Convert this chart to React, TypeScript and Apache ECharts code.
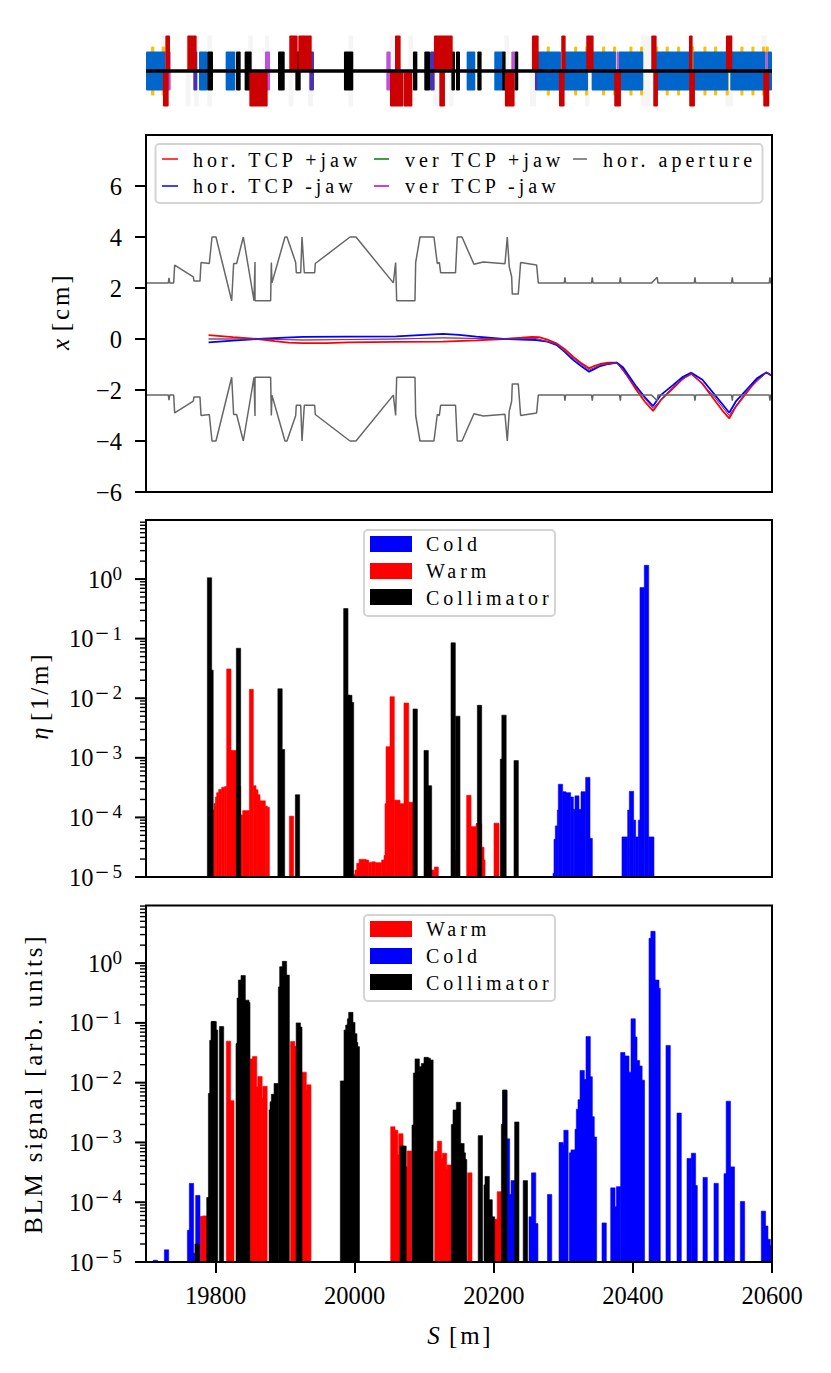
// App.tsx
import React, { useEffect, useRef } from "react";
import * as echarts from "echarts";

const FONT = "Liberation Serif";
const S_MIN = 19700;
const S_MAX = 20600;
const S_TICKS = [19800, 20000, 20200, 20400, 20600];
const X_TICKS = [-6, -4, -2, 0, 2, 4, 6];

// lattice elements, [s start, s end] in metres
const latBands = [[19722, 19727], [19757, 19764], [19769, 19776], [19788, 19795], [19847, 19854], [19871, 19877], [19905, 19912], [19933, 19940], [19991, 19998], [20050, 20056], [20077, 20084], [20113, 20120], [20136, 20142], [20215, 20222], [20252, 20261], [20331, 20338], [20412, 20425], [20533, 20544], [20585, 20592]];
const latYellow = [[19707.2, 19712], [19722.5, 19727.3], [20276.2, 20280.6], [20315.5, 20319.9], [20331.3, 20335.7], [20355.7, 20360.1], [20371.5, 20375.9], [20395, 20399.4], [20410.3, 20414.7], [20431.9, 20436.3], [20447.2, 20451.6], [20463.5, 20467.9], [20483.7, 20488.1], [20501.4, 20505.8], [20516.7, 20521.1], [20533.5, 20537.9], [20554.6, 20559], [20570.4, 20574.8], [20585.7, 20590.1], [20591, 20595.4]];
const latBlue = [[19700, 19727.8], [19776.2, 19788.7], [19814.5, 19828.4], [20161, 20173.4], [20200.7, 20213.7], [20261.6, 20296.6], [20300.4, 20335.4], [20340.7, 20375.6], [20379.5, 20414.9], [20433.1, 20483.5], [20486.8, 20537.1], [20540, 20590.8], [20593.7, 20600]];
const latOrchid = [[19727.8, 19735.5], [19871, 19878.3], [20045.5, 20051.7], [20225.2, 20231.4], [20376.6, 20380], [20590.8, 20593.7]];
const latIndigo = [[19768, 19773.8], [19934.8, 19941.5], [20108.3, 20115], [20259.2, 20262.6]];
const latBlack = [[19788.2, 19796.3], [19829.4, 19836.1], [19841.8, 19851.9], [19889.8, 19899.4], [19914.7, 19922.4], [19984.6, 19998], [20083.8, 20090.1], [20100.1, 20108.3], [20139, 20144.2], [20145.6, 20151.4], [20176.3, 20182.5], [20212.2, 20217], [20230.4, 20235.2]];
const latRedUp = [[19727.8, 19734.5], [19759.4, 19772.8], [19906, 19918], [19919, 19938.2], [20058, 20066.1], [20114, 20140.9], [20254.9, 20264.5], [20297, 20303.3], [20333, 20343.5], [20426.4, 20434.1], [20480.6, 20485.9], [20533.8, 20542.9]];
const latRedDown = [[19724.4, 19732.6], [19848.6, 19874.9], [20050.8, 20070], [20070.4, 20082.9], [20121.7, 20129.8], [20216, 20229.9], [20293.7, 20301.8], [20373.2, 20382.8], [20429.3, 20436], [20481, 20489.2], [20587.5, 20596.1]];

// aperture outline [s, half width in cm]
const aperture = [[19700, 2.2], [19732.1, 2.2], [19733.1, 2.4], [19734, 2.2], [19739.8, 2.2], [19741.2, 2.9], [19768, 2.44], [19769, 2.27], [19777.6, 2.27], [19779.1, 3.0], [19791, 2.96], [19794.9, 4], [19800.6, 4], [19823.2, 1.5], [19826, 2.96], [19830.3, 2.96], [19839.9, 4], [19855.3, 1.5], [19856.7, 3.02], [19856.7, 1.5], [19879.2, 1.5], [19880.2, 3.0], [19881.1, 2.2], [19899.8, 4], [19902.7, 4], [19915.2, 3.0], [19916.1, 2.6], [19922.4, 2.6], [19924.3, 4], [19927.6, 2.6], [19942.5, 2.6], [19943.4, 2.96], [19993.3, 4], [20001.9, 4], [20055.6, 2.2], [20058.9, 3.0], [20060.4, 1.5], [20086.7, 1.5], [20087.7, 3.0], [20093.9, 4], [20114, 4], [20118.8, 2.96], [20121.7, 3.0], [20123.6, 2.6], [20145, 2.6], [20147.5, 4], [20154.3, 4], [20171.5, 2.93], [20184.9, 3.02], [20216.1, 2.95], [20219.4, 4], [20222.3, 2.83], [20225.7, 2.44], [20226.6, 1.76], [20235.2, 1.76], [20238.6, 3.0], [20261.6, 2.9], [20264, 2.2], [20301.4, 2.2], [20302.3, 2.42], [20303.3, 2.2], [20340.7, 2.2], [20341.6, 2.42], [20342.6, 2.2], [20380.9, 2.2], [20381.9, 2.42], [20382.8, 2.2], [20426.9, 2.2], [20435, 2.42], [20436, 2.2], [20488.3, 2.2], [20489.2, 2.42], [20490.2, 2.2], [20541.9, 2.2], [20542.9, 2.42], [20543.8, 2.2], [20596.1, 2.2], [20597, 2.42], [20598, 2.2], [20600, 2.2]];

// collimator jaw positions [s, x in cm]
const horPlus = [[19790, 0.15], [19825, 0.07], [19861, 0], [19885, -0.08], [19905, -0.14], [19926, -0.16], [19960, -0.16], [19990, -0.13], [20060, -0.11], [20127, -0.1], [20175, -0.05], [20214, 0], [20240, 0.05], [20255, 0.08], [20265, 0.07], [20277, -0.02], [20290, -0.17], [20302, -0.4], [20314, -0.69], [20325, -0.93], [20337, -1.15], [20345, -1.05], [20353, -0.98], [20365, -0.93], [20377, -0.93], [20386, -1.2], [20405, -2.0], [20417, -2.45], [20429, -2.82], [20440, -2.4], [20458, -1.93], [20472, -1.55], [20484, -1.37], [20500, -1.75], [20516, -2.34], [20530, -2.85], [20538.6, -3.11], [20548, -2.65], [20563, -2.13], [20578, -1.6], [20592, -1.31], [20600, -1.44]];
const horMinus = [[19790, -0.13], [19825, -0.06], [19861, 0], [19900, 0.05], [19926, 0.08], [19990, 0.09], [20060, 0.1], [20100, 0.16], [20127, 0.2], [20150, 0.16], [20175, 0.09], [20214, 0], [20240, -0.02], [20261, -0.04], [20277, -0.1], [20290, -0.23], [20302, -0.5], [20314, -0.82], [20325, -1.05], [20337, -1.28], [20345, -1.17], [20353, -1.06], [20365, -0.98], [20377, -0.93], [20386, -1.12], [20405, -1.87], [20417, -2.28], [20429, -2.63], [20440, -2.2], [20458, -1.8], [20472, -1.48], [20484, -1.32], [20500, -1.6], [20516, -2.13], [20530, -2.6], [20538.6, -2.89], [20548, -2.45], [20563, -2.0], [20578, -1.55], [20592, -1.31], [20600, -1.44]];
const verPlus = [[19790, 0.01], [19861, 0], [19926, -0.04], [20060, 0], [20127, 0.04], [20214, 0], [20261, 0.02], [20290, -0.2], [20314, -0.75], [20337, -1.22], [20353, -1.02], [20377, -0.93], [20405, -1.93], [20429, -2.72], [20458, -1.86], [20484, -1.34], [20516, -2.23], [20538.6, -3.0], [20563, -2.06], [20592, -1.31], [20600, -1.44]];
const verMinus = [[19790, -0.01], [19861, 0], [19926, -0.04], [20060, 0], [20127, 0.05], [20214, 0], [20261, 0.02], [20290, -0.2], [20314, -0.75], [20337, -1.22], [20353, -1.02], [20377, -0.93], [20405, -1.93], [20429, -2.72], [20458, -1.86], [20484, -1.34], [20516, -2.23], [20538.6, -3.0], [20563, -2.06], [20592, -1.31], [20600, -1.44]];

// loss map, [s start, s end, eta]
const etaCold = [[20285.1, 20286.6, 1.15e-5], [20286.6, 20288.5, 4.3e-5], [20288.5, 20291.4, 7.2e-5], [20291.4, 20292.8, 1.33e-4], [20292.8, 20299, 3.6e-4], [20299, 20303.8, 2.7e-4], [20303.8, 20310.5, 2.6e-4], [20310.5, 20314.4, 2.2e-4], [20314.4, 20316.7, 1.36e-4], [20316.7, 20322.5, 2.3e-4], [20322.5, 20325.4, 1.36e-4], [20325.4, 20332.1, 2.7e-4], [20332.1, 20338.3, 4.7e-4], [20338.3, 20341.7, 4.45e-5], [20384.3, 20392.5, 4.7e-5], [20392.5, 20394.9, 1.33e-4], [20394.9, 20401.1, 2.74e-4], [20401.1, 20404, 9e-5], [20404, 20407.8, 4.7e-5], [20407.8, 20410.2, 9e-5], [20410.2, 20416.4, 7.2e-1], [20416.4, 20422.7, 1.7], [20422.7, 20430.3, 4.7e-5]];
const etaWarm = [[19796.8, 19797.8, 1.33e-4], [19797.8, 19799.7, 1.72e-4], [19799.7, 19801.6, 2.2e-4], [19801.6, 19804.5, 2.6e-4], [19804.5, 19808.8, 2.95e-4], [19808.8, 19813.1, 3.2e-4], [19813.1, 19816, 3.3e-4], [19816, 19822.2, 3.1e-2], [19822.2, 19831, 1.33e-3], [19831, 19836.1, 3.3e-4], [19836.1, 19839, 1.1e-4], [19839, 19848.6, 1.3e-4], [19848.6, 19854.3, 1.41e-2], [19854.3, 19858.2, 3.4e-4], [19858.2, 19861, 2.9e-4], [19861, 19863.9, 2.4e-4], [19863.9, 19871.6, 1.9e-4], [19871.6, 19874.5, 1.55e-4], [19874.5, 19877.4, 1.48e-4], [19906.1, 19912.3, 1.05e-4], [19999.1, 20000.5, 1.1e-5], [20000.5, 20002.9, 1.31e-5], [20002.9, 20006.3, 1.7e-5], [20006.3, 20016.3, 1.98e-5], [20016.3, 20020.2, 1.93e-5], [20020.2, 20024.5, 1.76e-5], [20024.5, 20029.7, 1.8e-5], [20029.7, 20038.8, 1.74e-5], [20038.8, 20042.2, 1.93e-5], [20042.2, 20043.6, 2.3e-5], [20043.6, 20045.1, 1.7e-4], [20045.1, 20050.8, 1.54e-3], [20050.8, 20057, 1.06e-2], [20057, 20065.2, 1.95e-4], [20065.2, 20070.9, 1.7e-4], [20070.9, 20077.7, 8.3e-3], [20077.7, 20083.9, 1.8e-4], [20110.2, 20114.6, 1.31e-5], [20114.6, 20120.3, 1.47e-5], [20144.3, 20147.6, 2.8e-5], [20161, 20167.3, 2.35e-4], [20167.3, 20174.5, 7e-5], [20174.5, 20179.2, 7.9e-5], [20179.2, 20182.6, 7.9e-5], [20182.6, 20186, 3.16e-5], [20186, 20187.4, 1.93e-5], [20200.3, 20207.5, 8e-5]];
const etaCollimator = [[19791.3, 1.05], [19793.5, 2.96e-2], [19833, 6.9e-2], [19892.7, 1.44e-2], [19896.3, 1.38e-3], [19917.8, 2.4e-4], [19987.3, 3.2e-1], [19990, 1.12e-2], [19993, 1.12e-2], [19995.5, 8.5e-3], [20087, 6.6e-3], [20102.8, 1.33e-3], [20107.6, 3.4e-4], [20141.6, 8.5e-2], [20148.3, 5e-3], [20179.5, 7.6e-3], [20212.5, 9.5e-4], [20214.7, 5.2e-3], [20232.2, 9e-4]];

// BLM signal, [s, signal]
const blmWarm = [[19781, 5.8e-5], [19784.4, 5.9e-5], [19818.6, 4.95e-2], [19823.4, 5e-3], [19852.9, 2.5e-2], [19856.2, 2.75e-2], [19861.5, 8.5e-3], [19863.9, 1.27e-2], [19864.9, 5.6e-3], [19871.1, 8.7e-3], [19910.9, 4.9e-2], [19912.6, 4.07e-2], [19927.4, 1.5e-2], [19928.6, 7.3e-3], [19934.1, 9.2e-3], [20054.9, 1.83e-3], [20059, 1.6e-3], [20062, 6.2e-4], [20066.4, 1.4e-3], [20075.7, 3.9e-4], [20078.6, 7.2e-4], [20118.1, 7.1e-4], [20122, 1.05e-3], [20125.8, 5.4e-4], [20129.2, 6.6e-4], [20132.5, 3.5e-4], [20135.9, 4.2e-4], [20165.6, 3.1e-4], [20204.6, 5.2e-5], [20208, 1.5e-4]];
const blmCold = [[19713.5, 1.07e-5], [19729.5, 1.6e-5], [19762.6, 3.4e-5], [19765.4, 2.07e-4], [19767, 1.4e-5], [19774.5, 1.3e-4], [20215.9, 7.5e-3], [20219.7, 1.15e-3], [20223.1, 1.35e-4], [20225.7, 6.5e-5], [20227.9, 2.3e-4], [20253.7, 5.7e-5], [20257.3, 3.1e-4], [20260.4, 4.4e-5], [20280.3, 1.35e-4], [20296.9, 1e-3], [20300.2, 9e-4], [20303.8, 1.6e-3], [20311.7, 6.7e-4], [20314.1, 7.5e-4], [20319.9, 1.66e-3], [20321.8, 3.6e-3], [20324.2, 5.2e-3], [20327.1, 1.6e-2], [20329.9, 1.13e-2], [20335.7, 5.9e-2], [20338.6, 1.26e-2], [20341.4, 2.7e-3], [20344.8, 1.23e-3], [20358.7, 4.5e-5], [20371.2, 1.74e-4], [20375.2, 8.4e-5], [20379.3, 1.82e-4], [20385.5, 3.2e-2], [20391.3, 2.8e-2], [20392.5, 1.18e-2], [20397.3, 1.5e-2], [20400.4, 1.17e-1], [20402.8, 5.8e-2], [20406.6, 2.35e-2], [20410.2, 1.9e-2], [20413.6, 1.1e-2], [20426.3, 2.6], [20428.9, 3.4], [20434.4, 5.2e-1], [20436.3, 3.8e-1], [20450.7, 4.2e-2], [20466.5, 3.1e-3], [20480.9, 5.4e-4], [20487.1, 6.6e-4], [20489.5, 1.9e-4], [20503.9, 2.6e-4], [20519.7, 2.07e-4], [20534.1, 3e-4], [20537.2, 4.9e-3], [20543, 3.9e-4], [20557.6, 1.03e-4], [20587.7, 7.1e-5], [20591.1, 4e-5], [20594.5, 2.4e-5], [20597.6, 1.9e-5]];
const blmCollimator = [[19773.4, 2e-5], [19790.4, 1.2e-4], [19792.8, 6.6e-3], [19794.7, 5.1e-2], [19796.6, 1.05e-1], [19798, 1.05e-1], [19800, 7.6e-2], [19808.6, 8.7e-2], [19832.5, 4.5e-2], [19834, 2.6e-1], [19835.9, 5.2e-1], [19839.7, 6.2e-1], [19845, 2.4e-1], [19846.4, 2.2e-1], [19880, 3.5e-3], [19881.4, 4.8e-3], [19883.3, 6.4e-3], [19887.2, 9.7e-3], [19893.4, 4e-1], [19895.3, 8.7e-1], [19899.1, 1.07], [19903, 6.3e-1], [19919, 1e-1], [19921.2, 8.5e-2], [19982.5, 1.07e-2], [19987.8, 7.6e-2], [19990.2, 9.2e-2], [19992.6, 1.17e-1], [19994.5, 1.5e-1], [19997.4, 1.02e-1], [20000.2, 6.6e-2], [20001.4, 4.7e-2], [20003.8, 4e-2], [20068.5, 8.7e-4], [20071, 8.7e-4], [20085.5, 1.95e-3], [20087.5, 1.45e-2], [20089.9, 2.5e-2], [20092.7, 1.45e-2], [20096, 1.85e-2], [20099, 2.1e-2], [20102.8, 2.65e-2], [20105.7, 2.57e-2], [20109.7, 2.4e-2], [20142.1, 2e-3], [20144.5, 3.5e-3], [20149.3, 4.7e-3], [20154.3, 9.6e-4], [20156.2, 6.7e-4], [20158.1, 5.2e-4], [20180.7, 1.3e-3], [20189, 1.95e-4], [20190.5, 2.7e-4], [20194.8, 1.1e-4], [20198.2, 5.7e-5], [20214, 2e-3], [20215.9, 7.5e-3], [20233.1, 2.2e-3], [20245.4, 2.3e-4]];

const BIN = 6.2; // collimator and BLM bin width, m
const LOG_BASE = 1e-5;

const toBins = (pairs: number[][]) => pairs.map(([s, v]) => [s - BIN / 2, s + BIN / 2, v]);

function boxes(list: number[][], y0: number, y1: number, fill: string, opacity = 1) {
  return {
    type: "custom",
    xAxisIndex: 0,
    yAxisIndex: 0,
    silent: true,
    data: list,
    encode: { x: [0, 1] },
    renderItem: (_: any, api: any) => {
      const a = api.coord([api.value(0), y1]);
      const b = api.coord([api.value(1), y0]);
      return {
        type: "rect",
        shape: { x: a[0], y: a[1], width: b[0] - a[0], height: b[1] - a[1], r: 1 },
        style: { fill, opacity },
      };
    },
  };
}

function bars(name: string, data: number[][], fill: string, idx: number) {
  return {
    type: "custom",
    name,
    xAxisIndex: idx,
    yAxisIndex: idx,
    clip: true,
    silent: true,
    data,
    encode: { x: [0, 1], y: 2 },
    renderItem: (_: any, api: any) => {
      const a = api.coord([api.value(0), api.value(2)]);
      const b = api.coord([api.value(1), LOG_BASE]);
      return {
        type: "rect",
        shape: { x: a[0], y: a[1], width: b[0] - a[0], height: b[1] - a[1] },
        // stroke closes the hairline seams between neighbouring bins
        style: { fill, stroke: fill, lineWidth: 0.6 },
      };
    },
  };
}

// matplotlib style log ticks; echarts spaces its minor ticks evenly in log space
function logTicks(idx: number, top: number) {
  const data: number[][] = [];
  for (let k = -5; k <= 0; k++) {
    for (let m = 1; m <= 9; m++) {
      const v = m * Math.pow(10, k);
      if (v <= top) data.push([S_MIN, v, m === 1 ? 1 : 0]);
    }
  }
  return {
    type: "custom",
    xAxisIndex: idx,
    yAxisIndex: idx,
    clip: false,
    silent: true,
    z: 6,
    data,
    encode: { x: 0, y: 1 },
    renderItem: (_: any, api: any) => {
      const p = api.coord([api.value(0), api.value(1)]);
      const major = api.value(2) === 1;
      return {
        type: "line",
        shape: { x1: p[0] - (major ? 11 : 6), y1: p[1], x2: p[0], y2: p[1] },
        style: { stroke: "#000", lineWidth: major ? 2 : 1.4 },
      };
    },
  };
}

const jaw = (name: string, data: number[][], color: string, width: number) => ({
  type: "line",
  name,
  xAxisIndex: 1,
  yAxisIndex: 1,
  data,
  showSymbol: false,
  silent: true,
  lineStyle: { color, width },
});

const logLabel = (v: number) => {
  const k = Math.log10(v);
  if (Math.abs(k - Math.round(k)) > 1e-6) return "";
  const e = Math.round(k);
  return e < 0 ? `{b|10}{m|\u2212}{e|${-e}}` : `{b|10}{e|${e}}`;
};

const logLabelRich = {
  b: { fontFamily: FONT, fontSize: 24.5, color: "#000", lineHeight: 30 },
  m: { fontFamily: "DejaVu Serif", fontSize: 18, color: "#000", lineHeight: 18, verticalAlign: "top" as const, padding: [0, 3, 0, 1] },
  e: { fontFamily: FONT, fontSize: 19, color: "#000", lineHeight: 18, verticalAlign: "top" as const },
};

function nameRich() {
  return {
    i: { fontFamily: FONT, fontSize: 25, fontStyle: "italic" as const, color: "#000", padding: [0, 12, 0, 0] },
    n: { fontFamily: FONT, fontSize: 25, color: "#000" },
  };
}

const legendText = (text: string, x: number, y: number) => ({
  type: "text",
  x,
  y,
  z: 20,
  style: { text, fontFamily: FONT, fontSize: 20, fill: "#000", verticalAlign: "middle" },
});
const legendLine = (x1: number, x2: number, y: number, stroke: string) => ({
  type: "line",
  z: 20,
  shape: { x1, y1: y, x2, y2: y },
  style: { stroke, lineWidth: 1.5 },
});
const legendPatch = (y: number, fill: string) => ({
  type: "rect",
  z: 20,
  shape: { x: 370, y, width: 42, height: 16 },
  style: { fill },
});
const legendFrame = (x: number, y: number, width: number, height: number) => ({
  type: "rect",
  z: 19,
  shape: { x, y, width, height, r: 4 },
  style: { fill: "#fff", stroke: "#d4d4d4", lineWidth: 2 },
});

export default function App() {
  const ref = useRef<HTMLDivElement | null>(null);

  useEffect(() => {
    const chart = echarts.init(ref.current!, null, { renderer: "svg" });
    const frame = { show: true, borderColor: "#000", borderWidth: 2, backgroundColor: "transparent", z: 5 };
    const hiddenX = (gridIndex: number) => ({ type: "value", gridIndex, min: S_MIN, max: S_MAX, show: false });
    const logY = (gridIndex: number, max: number, name: string, nameGap: number) => ({
      type: "log",
      logBase: 10,
      gridIndex,
      min: LOG_BASE,
      max,
      name,
      nameLocation: "middle",
      nameRotate: 90,
      nameGap,
      nameTextStyle: { rich: nameRich() },
      axisLine: { show: false },
      axisTick: { show: false },
      splitLine: { show: false },
      minorTick: { show: false },
      axisLabel: { formatter: logLabel, margin: 24, rich: logLabelRich, hideOverlap: false },
    });

    chart.setOption({
      animation: false,
      backgroundColor: "#fff",
      textStyle: { fontFamily: FONT },
      grid: [
        { left: 146, top: 35.5, width: 626, height: 71, show: false },
        { left: 146, top: 135, width: 626, height: 357, ...frame },
        { left: 146, top: 520, width: 626, height: 357, ...frame },
        { left: 146, top: 905.5, width: 626, height: 356.5, ...frame },
      ],
      xAxis: [
        hiddenX(0),
        hiddenX(1),
        hiddenX(2),
        {
          type: "value",
          gridIndex: 3,
          min: S_MIN,
          max: S_MAX,
          name: "{i|S}{n|[m]}",
          nameLocation: "middle",
          nameGap: 61,
          nameTextStyle: { rich: nameRich() },
          axisLine: { show: false },
          splitLine: { show: false },
          axisTick: { customValues: S_TICKS, length: 11, lineStyle: { color: "#000", width: 2 } },
          axisLabel: {
            customValues: S_TICKS,
            margin: 21,
            fontFamily: FONT,
            fontSize: 24.5,
            color: "#000",
            formatter: (v: number) => String(v),
          },
        },
      ],
      yAxis: [
        { type: "value", gridIndex: 0, min: -1, max: 1, show: false },
        {
          type: "value",
          gridIndex: 1,
          min: -6,
          max: 8,
          name: "{i|x}{n|[cm]}",
          nameLocation: "middle",
          nameRotate: 90,
          nameGap: 73,
          nameTextStyle: { rich: nameRich() },
          axisLine: { show: false },
          splitLine: { show: false },
          axisTick: { customValues: X_TICKS, length: 11, lineStyle: { color: "#000", width: 2 } },
          axisLabel: {
            customValues: X_TICKS,
            margin: 24,
            fontFamily: FONT,
            fontSize: 24.5,
            color: "#000",
            formatter: (v: number) => (v < 0 ? "\u2212" + -v : String(v)),
          },
        },
        logY(2, 9.8, "{i|\u03B7}{n|[1/m]}", 94),
        logY(3, 9.2, "{n|BLM signal [arb. units]}", 100),
      ],
      series: [
        boxes(latBands, -1, 1, "#000", 0.04),
        boxes(latYellow, -0.69, 0.69, "#ffc000"),
        boxes(latBlue, -0.55, 0.55, "#0066cc"),
        boxes(latOrchid, -0.55, 0.55, "#b955d6"),
        boxes(latIndigo, -0.55, 0.55, "#4a30b4"),
        boxes(latBlack, -0.55, 0.55, "#000"),
        boxes(latRedUp, 0, 1, "#cc0000"),
        boxes(latRedDown, -1, 0, "#cc0000"),
        {
          type: "line",
          xAxisIndex: 0,
          yAxisIndex: 0,
          data: [[S_MIN, 0], [S_MAX, 0]],
          showSymbol: false,
          silent: true,
          lineStyle: { color: "#000", width: 3.3 },
        },

        jaw("hor. TCP +jaw", horPlus, "#ff0000", 1.8),
        jaw("hor. TCP -jaw", horMinus, "#0000ff", 1.8),
        jaw("ver TCP +jaw", verPlus, "#008000", 0.8),
        jaw("ver TCP -jaw", verMinus, "#bf00bf", 0.8),
        jaw("hor. aperture", aperture, "#666666", 1.5),
        jaw("aperture lower", aperture.map(([s, x]) => [s, -x]), "#666666", 1.5),

        bars("Cold", etaCold, "#0000ff", 2),
        bars("Warm", etaWarm, "#ff0000", 2),
        bars("Collimator", toBins(etaCollimator), "#000000", 2),
        logTicks(2, 9.8),

        bars("Warm", toBins(blmWarm), "#ff0000", 3),
        bars("Cold", toBins(blmCold), "#0000ff", 3),
        bars("Collimator", toBins(blmCollimator), "#000000", 3),
        logTicks(3, 9.2),
      ],
      graphic: [
        legendFrame(155.5, 144, 607, 59),
        legendLine(162, 178, 159, "#ff0000"),
        legendLine(162, 178, 186, "#0000ff"),
        legendLine(374, 389, 159, "#008000"),
        legendLine(374, 389, 186, "#bf00bf"),
        legendLine(573, 587, 159, "#666666"),
        legendText("hor. TCP +jaw", 193, 160),
        legendText("hor. TCP -jaw", 193, 186),
        legendText("ver TCP +jaw", 405, 160),
        legendText("ver TCP -jaw", 405, 186),
        legendText("hor. aperture", 603, 160),

        legendFrame(364, 530, 191, 86),
        legendPatch(536, "#0000ff"),
        legendPatch(563, "#ff0000"),
        legendPatch(589, "#000000"),
        legendText("Cold", 426, 544),
        legendText("Warm", 426, 571),
        legendText("Collimator", 426, 598),

        legendFrame(364, 915, 191, 86),
        legendPatch(921, "#ff0000"),
        legendPatch(948, "#0000ff"),
        legendPatch(974, "#000000"),
        legendText("Warm", 426, 929),
        legendText("Cold", 426, 956),
        legendText("Collimator", 426, 983),
      ],
    });
    return () => chart.dispose();
  }, []);

  return (
    <>
      {/* computer modern runs much wider than any installed serif */}
      <style>{`
        svg text[style*="20px"] { letter-spacing: 4px; }
        svg text[style*="25px"] { letter-spacing: 2.8px; }
      `}</style>
      <div ref={ref} style={{ position: "absolute", left: 0, top: 0, width: 831, height: 1373 }} />
    </>
  );
}
